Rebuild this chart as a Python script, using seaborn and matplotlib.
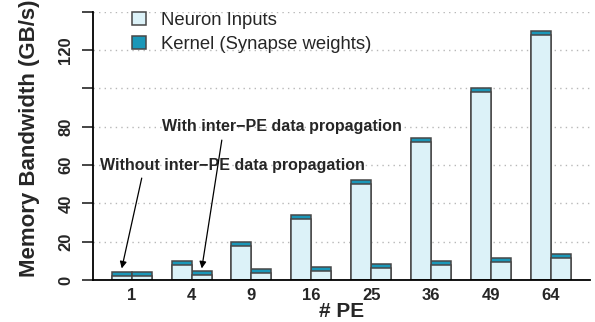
import matplotlib
matplotlib.use("Agg")
import matplotlib.pyplot as plt
import seaborn as sns
import pandas as pd
from matplotlib.patches import Patch

pe_labels = ["1", "4", "9", "16", "25", "36", "49", "64"]
without_neuron = [2, 8, 18, 32, 50, 72, 98, 128]
without_kernel = [2.1, 2.1, 2.1, 2.1, 2.1, 2.1, 2.1, 2.1]
with_neuron = [2, 2.9, 3.7, 4.9, 6.1, 7.8, 9.6, 11.4]
with_kernel = [2.1, 2.1, 2.1, 2.1, 2.1, 2.1, 2.1, 2.1]
configs = ["Without", "With"]

light = "#dcf2f8"
kernel = "#1a97b8"
edge = "#474747"

rows = []
for i, pe in enumerate(pe_labels):
    rows.append(dict(PE=pe, config="Without", neuron=without_neuron[i],
                     total=without_neuron[i] + without_kernel[i]))
    rows.append(dict(PE=pe, config="With", neuron=with_neuron[i],
                     total=with_neuron[i] + with_kernel[i]))
df = pd.DataFrame(rows)

sns.set_style("white")
plt.rcParams['font.family'] = ['Liberation Sans', 'DejaVu Sans']

fig = plt.figure(figsize=(5.95, 3.22), dpi=100)
ax = fig.add_axes([0.156, 0.130, 0.836, 0.834])

ax.yaxis.grid(True, linestyle=(0, (1, 3)), color="#b8b8b8", linewidth=1.0)
ax.set_axisbelow(True)

common = dict(x="PE", hue="config", order=pe_labels, hue_order=configs,
              width=0.668, dodge=True, legend=False, ax=ax, saturation=1,
              linewidth=1.1, edgecolor=edge, gap=0)
sns.barplot(data=df, y="total", palette=[kernel, kernel], **common)
sns.barplot(data=df, y="neuron", palette=[light, light], **common)

ax.set_xlim(-0.65, 7.66)
ax.set_ylim(0, 140)
ax.set_yticks([0, 20, 40, 60, 80, 100, 120, 140])
ax.set_yticklabels(["0", "20", "40", "60", "80", "", "120", ""],
                   rotation=90, va="center", fontweight="bold", fontsize=12)
ax.tick_params(axis="y", direction="out", length=8, width=1.2, pad=6, left=True)
ax.tick_params(axis="x", length=0, pad=6)
for lab in ax.get_xticklabels():
    lab.set_fontweight("bold")
    lab.set_fontsize(12)

ax.set_xlabel("# PE", fontsize=15, fontweight="bold", labelpad=-1)
ax.set_ylabel("Memory Bandwidth (GB/s)", fontsize=16, fontweight="bold")
ax.yaxis.set_label_coords(-0.107, 0.53)

for s in ["top", "right"]:
    ax.spines[s].set_visible(False)
for s in ["left", "bottom"]:
    ax.spines[s].set_color("black")
    ax.spines[s].set_linewidth(1.3)

handles = [Patch(facecolor=light, edgecolor=edge, linewidth=1.1, label="Neuron Inputs"),
           Patch(facecolor=kernel, edgecolor=edge, linewidth=1.1, label="Kernel (Synapse weights)")]
ax.legend(handles=handles, loc="upper left", bbox_to_anchor=(0.045, 1.06), frameon=False,
          fontsize=13.3, handlelength=0.75, handleheight=0.7, handletextpad=0.85,
          labelspacing=0.38)

ax.text(-0.53, 60, "Without inter\u2212PE data propagation", fontsize=11.5,
        fontweight="bold", ha="left", va="center")
ax.text(0.51, 80, "With inter\u2212PE data propagation", fontsize=11.5,
        fontweight="bold", ha="left", va="center")
arrow = dict(arrowstyle="-|>", color="black", lw=0.9, mutation_scale=10,
             shrinkA=0, shrinkB=0)
ax.annotate("", xy=(-0.167, 6.1), xytext=(0.167, 53.2), arrowprops=arrow)
ax.annotate("", xy=(1.17, 6.1), xytext=(1.505, 73), arrowprops=arrow)

fig.savefig("out.png", dpi=100)
